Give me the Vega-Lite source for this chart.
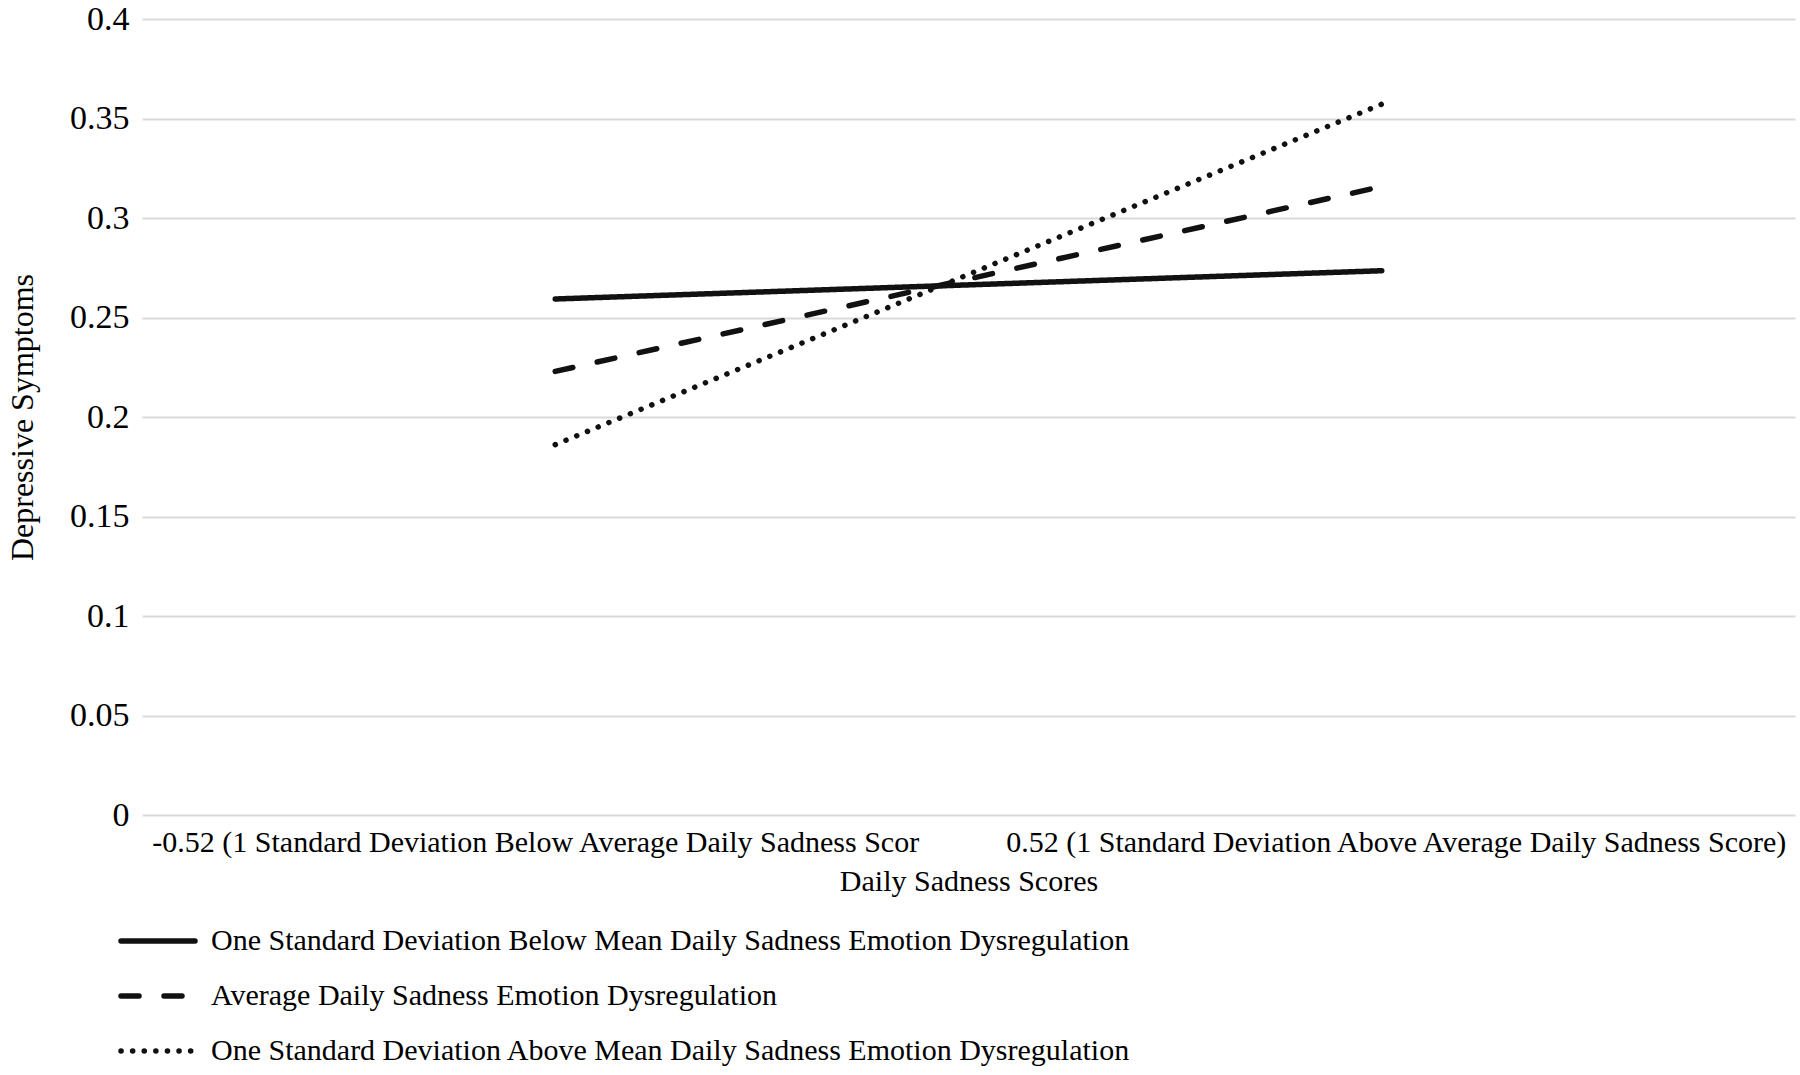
{
  "$schema": "https://vega.github.io/schema/vega-lite/v6.json",
  "autosize": "none",
  "padding": {"left": 142, "top": 19, "right": 5, "bottom": 260},
  "width": 1653,
  "height": 796,
  "background": "white",
  "config": {
    "font": "Liberation Serif",
    "view": {"stroke": null},
    "axis": {"labelFont": "Liberation Serif", "titleFont": "Liberation Serif", "labelColor": "#000", "titleColor": "#000", "titleFontWeight": "normal"},
    "legend": {"labelFont": "Liberation Serif", "labelColor": "#000"}
  },
  "data": {
    "values": [
      {"sadness": "-0.52 (1 Standard Deviation Below Average Daily Sadness Scor", "series": "One Standard Deviation Below Mean Daily Sadness Emotion Dysregulation", "value": 0.2593},
      {"sadness": "0.52 (1 Standard Deviation Above Average Daily Sadness Score)", "series": "One Standard Deviation Below Mean Daily Sadness Emotion Dysregulation", "value": 0.2735},
      {"sadness": "-0.52 (1 Standard Deviation Below Average Daily Sadness Scor", "series": "Average Daily Sadness Emotion Dysregulation", "value": 0.2229},
      {"sadness": "0.52 (1 Standard Deviation Above Average Daily Sadness Score)", "series": "Average Daily Sadness Emotion Dysregulation", "value": 0.3158},
      {"sadness": "-0.52 (1 Standard Deviation Below Average Daily Sadness Scor", "series": "One Standard Deviation Above Mean Daily Sadness Emotion Dysregulation", "value": 0.1861},
      {"sadness": "0.52 (1 Standard Deviation Above Average Daily Sadness Score)", "series": "One Standard Deviation Above Mean Daily Sadness Emotion Dysregulation", "value": 0.3572}
    ]
  },
  "mark": {"type": "line", "color": "#111", "strokeWidth": 5.5, "strokeCap": "round"},
  "encoding": {
    "x": {
      "field": "sadness", "type": "nominal", "sort": null,
      "scale": {"type": "point", "padding": 0.5},
      "title": "Daily Sadness Scores",
      "axis": {"domain": false, "ticks": false, "labelAngle": 0, "labelFontSize": 30, "labelLimit": 1000, "labelPadding": 12, "titleFontSize": 30, "titlePadding": 9, "labelBaseline": "top",
        "labelOffset": {"condition": {"test": "indexof(datum.value, '-') === 0", "value": -20}, "value": 14}}
    },
    "y": {
      "field": "value", "type": "quantitative",
      "scale": {"domain": [0, 0.4], "nice": false},
      "title": "Depressive Symptoms",
      "axis": {"values": [0, 0.05, 0.1, 0.15, 0.2, 0.25, 0.3, 0.35, 0.4], "format": "~g", "domain": false, "ticks": false, "gridColor": "#d9d9d9", "gridWidth": 2, "labelFontSize": 34, "labelPadding": 13, "titleFontSize": 32, "titlePadding": 30}
    },
    "strokeDash": {
      "field": "series", "type": "nominal",
      "scale": {
        "domain": ["One Standard Deviation Below Mean Daily Sadness Emotion Dysregulation", "Average Daily Sadness Emotion Dysregulation", "One Standard Deviation Above Mean Daily Sadness Emotion Dysregulation"],
        "range": [[1, 0], [18, 25], [0.1, 11.5]]
      },
      "legend": {
        "title": null, "orient": "none", "legendX": -24, "legendY": 882, "direction": "vertical",
        "symbolType": "stroke", "symbolSize": 5476, "symbolStrokeWidth": 5.5, "symbolStrokeColor": "#111",
        "labelFontSize": 30, "labelLimit": 1400, "labelOffset": 13, "rowPadding": 0,
        "encode": {"symbols": {"update": {"strokeCap": {"value": "round"}}}}
      }
    }
  }
}
